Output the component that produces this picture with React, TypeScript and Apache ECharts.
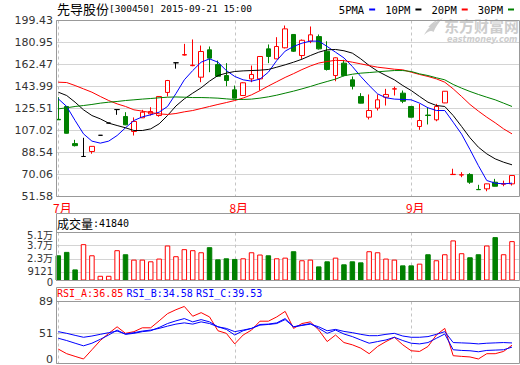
import React, { useEffect, useRef } from 'react';
import * as echarts from 'echarts';

// ---- data ----
const dates = [
  '07-01', '07-02', '07-03', '07-08', '07-09', '07-10', '07-13', '07-14', '07-15', '07-16', '07-17',
  '07-20', '07-21', '07-22', '07-23', '07-24', '07-27', '07-28', '07-29', '07-30', '07-31',
  '08-03', '08-04', '08-05', '08-06', '08-07', '08-10', '08-11', '08-12', '08-13', '08-14',
  '08-17', '08-18', '08-19', '08-20', '08-21', '08-24', '08-25', '08-26', '08-27', '08-28', '08-31',
  '09-01', '09-02', '09-07', '09-08', '09-09', '09-10', '09-11', '09-14', '09-15', '09-16', '09-17',
  '09-18', '09-21',
];

// [open, close, low, high]
const candles = [
  [116.4, 116.0, 116.0, 135.0], [127.2, 104.7, 104.5, 127.5], [96.0, 94.3, 93.6, 99.2], [85.2, 85.2, 85.2, 100.9],
  [89.4, 93.7, 87.5, 93.8], [103.0, 103.0, 103.0, 103.0], [113.3, 113.3, 113.3, 113.3], [124.6, 124.6, 120.2, 124.6],
  [118.8, 111.8, 111.5, 122.4], [106.2, 114.6, 102.8, 118.0], [117.7, 122.4, 117.5, 124.4], [121.0, 123.0, 119.6, 126.6],
  [119.6, 135.6, 118.6, 136.0], [139.0, 149.0, 135.6, 149.5], [163.9, 163.9, 159.0, 163.9], [170.4, 170.8, 170.0, 179.8],
  [161.5, 161.9, 161.0, 183.5], [151.8, 173.4, 147.6, 178.4], [174.8, 167.8, 156.0, 177.6], [162.4, 152.6, 152.0, 165.8],
  [153.2, 149.0, 144.2, 163.6], [141.2, 134.2, 134.0, 144.8], [136.4, 147.1, 136.0, 147.5], [150.4, 154.1, 147.6, 161.6],
  [150.4, 169.2, 140.6, 169.5], [175.6, 169.2, 163.6, 179.3], [167.2, 177.6, 167.0, 185.4], [176.5, 192.4, 176.0, 195.2],
  [187.7, 173.6, 173.0, 188.0], [170.0, 182.8, 167.2, 183.5], [182.1, 187.4, 180.4, 194.4], [185.9, 175.6, 175.0, 187.7],
  [173.6, 158.3, 157.4, 182.0], [153.2, 168.1, 148.4, 168.5], [163.6, 153.2, 152.5, 166.4], [149.6, 144.2, 141.5, 152.4],
  [135.6, 130.0, 129.8, 138.4], [118.2, 123.8, 116.3, 137.3], [125.8, 132.8, 123.8, 137.3], [135.0, 137.3, 128.0, 142.0],
  [141.8, 142.1, 136.4, 143.9], [138.4, 131.6, 130.0, 140.6], [127.2, 118.2, 118.0, 127.5], [110.4, 115.4, 107.6, 129.4],
  [120.0, 119.6, 112.1, 126.1], [116.0, 127.2, 114.8, 129.4], [130.2, 140.0, 130.0, 140.2], [70.0, 70.2, 70.0, 74.9],
  [69.6, 69.9, 67.8, 72.0], [70.1, 63.6, 62.2, 71.2], [57.5, 57.3, 57.3, 61.4], [58.0, 62.2, 56.0, 62.4],
  [63.6, 60.2, 60.0, 66.4], [61.9, 62.3, 60.2, 64.9], [62.2, 69.2, 60.8, 69.3],
];

const volumes = [
  26800, 30400, 11800, 38600, 26800, 5000, 5000, 32200, 27900, 22200, 22200, 20400, 23300, 37200, 25800,
  33300, 32200, 30000, 35400, 22500, 23600, 22900, 23600, 30000, 27600, 26800, 23600, 24300, 31100, 21500,
  22200, 15000, 20400, 24300, 17200, 20400, 19300, 31100, 30000, 23300, 22200, 16100, 16100, 17900, 27900,
  21500, 27900, 42600, 29000, 24700, 27900, 37200, 46100, 27900, 41840,
];

const ma5 = [
  133.6, 127.2, 115.4, 104.2, 98.1, 96.4, 98.1, 102.8, 109.3, 115.4, 118.5, 120.2, 122.4, 127.2, 138.0,
  149.6, 157.4, 164.4, 167.2, 164.4, 157.4, 152.4, 149.6, 148.5, 150.2, 156.0, 165.8, 173.7, 177.6, 180.4,
  182.1, 182.1, 177.6, 172.8, 168.0, 160.8, 152.4, 144.8, 137.8, 134.5, 133.4, 133.1, 132.8, 130.0, 126.1,
  123.8, 123.8, 114.0, 104.0, 91.0, 77.5, 65.0, 62.8, 62.2, 62.8,
];
const ma10 = [
  139.2, 136.4, 130.8, 124.4, 119.6, 116.8, 113.2, 111.2, 109.3, 107.0, 107.0, 108.4, 112.6, 119.6, 127.6,
  133.6, 138.4, 142.9, 148.5, 153.2, 155.2, 156.6, 157.1, 157.4, 157.7, 158.3, 160.2, 162.2, 164.4, 166.9,
  170.0, 172.8, 174.8, 175.1, 174.0, 172.0, 167.2, 161.6, 156.9, 153.2, 149.6, 144.8, 140.6, 135.6, 130.8,
  128.0, 127.2, 119.6, 110.4, 100.9, 93.0, 87.4, 83.2, 80.4, 78.2,
];
const ma20 = [
  147.6, 147.3, 144.8, 142.0, 139.2, 135.6, 132.2, 129.4, 127.2, 124.4, 123.3, 122.1, 121.0, 120.5, 121.3,
  122.7, 123.8, 125.5, 127.2, 128.9, 130.5, 132.2, 134.3, 137.0, 140.5, 144.4, 148.0, 151.6, 154.8, 158.2,
  161.2, 163.7, 165.0, 166.0, 165.7, 164.4, 163.0, 161.6, 160.2, 159.4, 158.5, 158.0, 156.0, 154.1, 152.4,
  150.4, 147.6, 142.0, 135.6, 128.9, 123.3, 118.2, 113.5, 108.4, 104.2,
];
const ma30 = [
  125.2, 126.1, 127.2, 128.0, 128.9, 130.0, 130.8, 131.4, 132.2, 132.8, 133.4, 133.9, 134.5, 135.0, 135.2,
  135.0, 134.7, 134.7, 134.5, 134.2, 133.6, 133.1, 133.1, 133.4, 134.2, 135.3, 136.7, 138.4, 140.1, 142.0,
  144.0, 146.2, 148.2, 150.2, 153.0, 154.3, 155.2, 155.7, 156.3, 156.9, 157.4, 157.4, 156.6, 154.6, 153.2,
  151.3, 149.6, 145.7, 142.6, 139.8, 137.3, 135.0, 132.8, 130.0, 127.2,
];

const rsiA = [
  32.2, 26.7, 23.5, 20.4, 31.4, 42.4, 51.0, 58.8, 51.0, 53.0, 57.6, 57.6, 65.9, 74.5, 79.2,
  83.1, 71.4, 75.7, 70.6, 54.1, 51.0, 38.4, 49.0, 54.9, 65.5, 65.5, 70.6, 77.2, 56.9, 62.7,
  64.7, 54.9, 41.2, 49.0, 40.0, 37.3, 33.3, 26.7, 35.3, 41.2, 46.3, 37.3, 30.2, 29.4, 35.3,
  49.0, 56.9, 24.3, 23.5, 22.8, 20.4, 26.7, 26.7, 29.4, 36.85,
];
const rsiB = [
  45.1, 42.4, 39.2, 36.1, 39.2, 43.9, 49.0, 54.9, 49.8, 51.0, 53.0, 54.1, 58.0, 62.7, 65.9,
  68.6, 64.7, 67.4, 64.7, 58.8, 55.7, 49.0, 54.1, 56.9, 60.8, 61.6, 62.7, 67.4, 58.8, 60.8,
  62.7, 56.9, 51.0, 54.9, 50.2, 47.1, 43.1, 39.2, 41.2, 43.1, 46.3, 42.4, 39.2, 38.4, 40.0,
  45.1, 50.2, 31.4, 30.6, 30.2, 29.0, 30.6, 31.0, 31.4, 34.58,
];
const rsiC = [
  53.0, 51.0, 48.6, 46.3, 47.8, 49.8, 51.8, 53.7, 50.2, 51.8, 53.7, 54.9, 56.9, 59.6, 62.0,
  63.5, 62.0, 64.7, 62.7, 58.8, 56.9, 53.0, 54.9, 56.9, 61.6, 62.0, 63.5, 68.6, 58.8, 60.4,
  62.0, 58.8, 54.1, 55.7, 53.3, 51.8, 49.8, 48.2, 48.2, 49.8, 51.0, 47.8, 46.3, 46.3, 47.1,
  49.8, 53.0, 40.0, 39.6, 39.2, 38.4, 39.2, 39.6, 40.0, 39.53,
];

const priceTicks = [51.58, 70.06, 88.54, 107.02, 125.51, 143.99, 162.47, 180.95, 199.43];
const volumeTicks = [0, 9121, 23000, 37000, 51000];
const volumeTickLabels = ['0', '9121', '2.3万', '3.7万', '5.1万'];
const rsiTicks = [15, 51, 89];
const rsiTickLabels = ['0', '51', '89'];

const stockName = '先导股份';
const stockInfo = '[300450] 2015-09-21 15:00';
const maNames = ['5PMA', '10PM', '20PM', '30PM'];
const lastVolume = 41840;

// ---- styles ----
const RED = '#ff0000';
const GREEN = '#008000';
const BLUE = '#0000ff';
const maColors = [BLUE, '#000000', RED, GREEN];
const BORDER = '#999999';
const GRIDLINE = '#d4d4d4';
const LABEL = '#333333';
const MONO = '"DejaVu Sans Mono", monospace';
const CJK = '"Noto Sans CJK SC", sans-serif';
const WM = '#cdcdcd';
const LABEL_FONT = '"DejaVu Sans", "Noto Sans CJK SC", sans-serif';

try {
  echarts.graphic.registerShape(
    'emLogo',
    echarts.graphic.extendPath(
      'M1,17 C4,11 9,5 19,0 C15,4 12,9 10,14 C8,12 5,13 1,17 Z M5,9 C8,5 12,2 16,1 C12,4 9,6 7,9 Z',
      {}
    ) as any
  );
} catch (e) {
  // already registered
}

const nearestIndex = (v: number, ticks: number[]) => {
  let best = 0;
  ticks.forEach((t, i) => { if (Math.abs(t - v) < Math.abs(ticks[best] - v)) best = i; });
  return best;
};

export default function App() {
  const ref = useRef<HTMLDivElement>(null);

  useEffect(() => {
    document.body.style.margin = '0';
    if (!ref.current) return;
    const chart = echarts.init(ref.current, undefined, { renderer: 'svg' });

    const n = dates.length;
    const xMin = -0.28;
    const xMax = n - 1 + 0.83;
    const monthStarts = dates
      .map((d, i) => (i === 0 || d.slice(0, 2) !== dates[i - 1].slice(0, 2) ? i : -1))
      .filter((i) => i >= 0);
    const monthLabel = (i: number) => `${parseInt(dates[i].slice(0, 2), 10)}月`;

    const panels = [
      { top: 20.5, height: 176 },
      { top: 232.5, height: 48 },
      { top: 301.5, height: 62 },
    ];
    const grids: any[] = [];
    panels.forEach((p) => {
      grids.push({ left: 56, width: 463, top: p.top, height: p.height, outerBoundsMode: 'none', containLabel: false });
      grids.push({ left: 58.3, width: 453.7, top: p.top, height: p.height, outerBoundsMode: 'none', containLabel: false });
    });

    // labels are split over the frame axis (even ticks) and the data axis (odd ticks)
    // so that neighbouring labels never collide and get hidden
    const yDefs = [
      { min: 51.58, max: 199.43, ticks: priceTicks, labels: priceTicks.map((t) => t.toFixed(2)), split: false, size: 11 },
      { min: 0, max: 51000, ticks: volumeTicks, labels: volumeTickLabels, split: true, size: 10 },
      { min: 15, max: 89, ticks: rsiTicks, labels: rsiTickLabels, split: false, size: 11 },
    ];

    const xAxes: any[] = [];
    const yAxes: any[] = [];
    panels.forEach((p, k) => {
      xAxes.push({
        type: 'value', gridIndex: 2 * k, min: xMin, max: xMax,
        axisLine: { show: false },
        axisTick: { show: false, customValues: monthStarts },
        axisLabel: {
          show: k === 0, customValues: monthStarts,
          formatter: (v: number) => `{m|${monthLabel(Math.round(v))}}`,
          rich: { m: { color: RED, fontSize: 12, fontFamily: CJK, lineHeight: 12, padding: [0, 0, 0, 8] } },
          color: RED, fontSize: 12, fontFamily: CJK, margin: 5, lineHeight: 12,
          showMinLabel: true, showMaxLabel: true,
        },
        splitLine: { show: true, lineStyle: { color: '#c4c4c4', type: [3, 3], width: 1 } },
      });
      xAxes.push({ type: 'category', gridIndex: 2 * k + 1, data: dates, boundaryGap: false, show: false });

      const d = yDefs[k];
      const base = { color: LABEL, fontSize: d.size, fontFamily: LABEL_FONT, lineHeight: 7 };
      const labelRich = {
        n: base,
        t: { ...base, padding: [6, 0, 0, 0] },
        z: { ...base, padding: [3, 0, 0, 0] },
        b: { ...base, padding: [0, 0, 9, 0] },
      };
      const fmt = (v: number) => {
        const i = nearestIndex(v, d.ticks);
        if (k === 1 && i === d.ticks.length - 1) return `{t|${d.labels[i]}}`;
        if (k === 1 && i === 0) return `{z|${d.labels[i]}}`;
        if (k === 2 && i === 0) return `{b|${d.labels[i]}}`;
        return `{n|${d.labels[i]}}`;
      };
      const frameLabelValues = d.split ? d.ticks.filter((_, i) => i % 2 === 0) : d.ticks;
      const dataLabelValues = d.split ? d.ticks.filter((_, i) => i % 2 === 1) : [];
      yAxes.push({
        type: 'value', gridIndex: 2 * k, min: d.min, max: d.max, position: 'left',
        axisLine: { show: false },
        axisTick: { show: false, customValues: d.ticks },
        axisLabel: {
          customValues: frameLabelValues, formatter: fmt, rich: labelRich,
          color: LABEL, fontSize: d.size, fontFamily: LABEL_FONT, margin: 3, lineHeight: 7,
          showMinLabel: true, showMaxLabel: true, hideOverlap: false,
        },
        splitLine: { show: true, lineStyle: { color: GRIDLINE, width: 1 } },
      });
      yAxes.push({
        type: 'value', gridIndex: 2 * k + 1, min: d.min, max: d.max, position: 'left',
        show: dataLabelValues.length > 0,
        axisLine: { show: false },
        axisTick: { show: false },
        splitLine: { show: false },
        axisLabel: {
          show: dataLabelValues.length > 0,
          customValues: dataLabelValues.length ? dataLabelValues : undefined,
          formatter: fmt, rich: labelRich,
          color: LABEL, fontSize: d.size, fontFamily: LABEL_FONT, margin: 5.3, lineHeight: 7,
          showMinLabel: true, showMaxLabel: true, hideOverlap: false,
        },
      });
    });

    const maSeries = [ma5, ma10, ma20, ma30].map((arr, i) => ({
      name: maNames[i], type: 'line', xAxisIndex: 1, yAxisIndex: 1, data: arr,
      symbol: 'none', showSymbol: false, lineStyle: { width: 1, color: maColors[i] },
      itemStyle: { color: maColors[i] }, z: 3,
    }));

    const volumeData = volumes.map((v, i) => {
      const up = candles[i][1] >= candles[i][0];
      return {
        value: v,
        itemStyle: up
          ? { color: '#ffffff', borderColor: RED, borderWidth: 1 }
          : { color: GREEN, borderColor: GREEN, borderWidth: 1 },
      };
    });

    const rsiSeries = [
      { data: rsiA, color: RED }, { data: rsiB, color: BLUE }, { data: rsiC, color: BLUE },
    ].map((s, i) => ({
      name: `RSI${i}`, type: 'line', xAxisIndex: 5, yAxisIndex: 5, data: s.data,
      symbol: 'none', showSymbol: false, lineStyle: { width: 1, color: s.color }, z: 3,
    }));

    const boxStyle = { fill: 'none', stroke: BORDER, lineWidth: 1 };

    chart.setOption({
      animation: false,
      backgroundColor: '#ffffff',
      grid: grids,
      xAxis: xAxes,
      yAxis: yAxes,
      legend: {
        data: maNames, right: 6, top: 4, padding: 0, align: 'right', icon: 'rect',
        itemWidth: 6, itemHeight: 2, itemGap: 10, selectedMode: false,
        textStyle: { fontFamily: MONO, fontSize: 10.5, color: '#000' },
      },
      series: [
        {
          name: 'K', type: 'candlestick', xAxisIndex: 1, yAxisIndex: 1, data: candles,
          barWidth: 5, clip: false, z: 2,
          itemStyle: {
            color: '#ffffff', color0: GREEN, borderColor: RED, borderColor0: GREEN,
            borderColorDoji: '#000000', borderWidth: 1,
          },
        },
        ...maSeries,
        {
          name: 'VOL', type: 'bar', xAxisIndex: 3, yAxisIndex: 3, data: volumeData,
          barWidth: 5.5, clip: false, z: 2,
        },
        ...rsiSeries,
      ],
      graphic: [
        { type: 'rect', silent: true, z: 10, shape: { x: 56.5, y: 20.5, width: 463, height: 176 }, style: boxStyle },
        { type: 'rect', silent: true, z: 10, shape: { x: 56.5, y: 213.5, width: 463, height: 67 }, style: boxStyle },
        { type: 'line', silent: true, z: 10, shape: { x1: 56.5, y1: 232.5, x2: 519.5, y2: 232.5 }, style: { stroke: BORDER, lineWidth: 1 } },
        { type: 'rect', silent: true, z: 10, shape: { x: 56.5, y: 287.5, width: 463, height: 76 }, style: boxStyle },
        { type: 'line', silent: true, z: 10, shape: { x1: 56.5, y1: 301.5, x2: 519.5, y2: 301.5 }, style: { stroke: BORDER, lineWidth: 1 } },
        {
          type: 'text', x: 57, y: 2, silent: true, z: 10,
          style: {
            text: `{a|${stockName}}{b|${stockInfo}}`, verticalAlign: 'top',
            rich: {
              a: { fontFamily: CJK, fontSize: 13, fill: '#000' },
              b: { fontFamily: MONO, fontSize: 9.5, fill: '#000' },
            },
          },
        },
        {
          type: 'text', x: 57, y: 216.5, silent: true, z: 10,
          style: {
            text: `{a|成交量}{b|:${lastVolume}}`, verticalAlign: 'top',
            rich: {
              a: { fontFamily: CJK, fontSize: 12, fill: '#000', lineHeight: 14 },
              b: { fontFamily: MONO, fontSize: 10, fill: '#000', lineHeight: 14 },
            },
          },
        },
        {
          type: 'text', x: 57, y: 287.5, silent: true, z: 10,
          style: {
            text: `{a|RSI_A:${rsiA[n - 1].toFixed(2)}} {b|RSI_B:${rsiB[n - 1].toFixed(2)}} {b|RSI_C:${rsiC[n - 1].toFixed(2)}}`,
            verticalAlign: 'top',
            rich: {
              a: { fontFamily: MONO, fontSize: 10, fill: RED, lineHeight: 12 },
              b: { fontFamily: MONO, fontSize: 10, fill: BLUE, lineHeight: 12 },
            },
          },
        },
        {
          type: 'emLogo', x: 423, y: 18, scaleX: 1.05, scaleY: 1.0, silent: true, z: 1,
          style: { fill: WM },
        },
        {
          type: 'text', x: 444, y: 18, silent: true, z: 1,
          style: { text: '东方财富网', fill: WM, font: `bold 15px ${CJK}`, verticalAlign: 'top' },
        },
        {
          type: 'text', x: 447, y: 35, silent: true, z: 1,
          style: { text: 'eastmoney.com', fill: WM, font: 'italic bold 8px "DejaVu Sans", sans-serif', verticalAlign: 'top' },
        },
      ],
    });

    return () => chart.dispose();
  }, []);

  return <div ref={ref} style={{ width: 520, height: 365 }} />;
}
